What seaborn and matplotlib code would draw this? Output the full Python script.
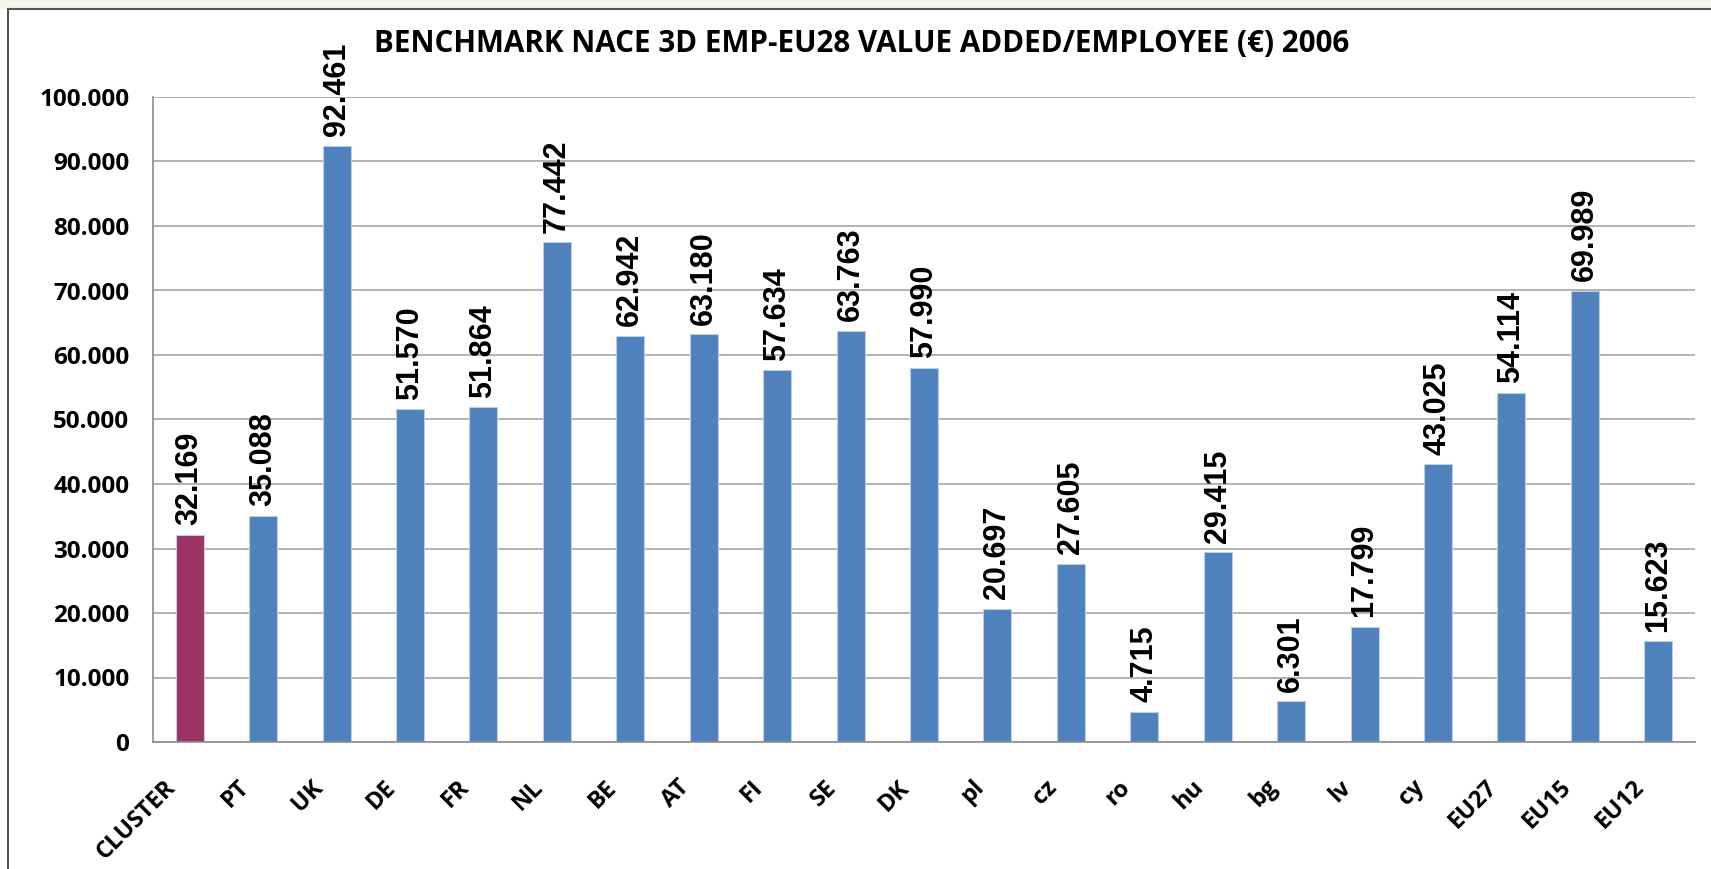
import numpy as np
import pandas as pd
import matplotlib
matplotlib.use("Agg")
import matplotlib.pyplot as plt
import matplotlib.transforms as mtransforms
from matplotlib.patches import Rectangle
from matplotlib.ticker import FuncFormatter
import seaborn as sns

# --- data ---
categories = ["CLUSTER", "PT", "UK", "DE", "FR", "NL", "BE", "AT", "FI", "SE", "DK",
              "pl", "cz", "ro", "hu", "bg", "lv", "cy", "EU27", "EU15", "EU12"]
values = [32169, 35088, 92461, 51570, 51864, 77442, 62942, 63180, 57634, 63763, 57990,
          20697, 27605, 4715, 29415, 6301, 17799, 43025, 54114, 69989, 15623]
highlight = "CLUSTER"
title = "BENCHMARK NACE 3D EMP-EU28 VALUE ADDED/EMPLOYEE (€) 2006"

BLUE = "#4F81BD"
MAROON = "#9B3363"

df = pd.DataFrame({"cat": categories, "val": values})
palette = {c: (MAROON if c == highlight else BLUE) for c in categories}

sns.set_theme(style="white")
plt.rcParams["font.family"] = ["Open Sans", "DejaVu Sans"]
plt.rcParams["text.color"] = "black"
plt.rcParams["xtick.color"] = "black"
plt.rcParams["ytick.color"] = "black"

fig = plt.figure(figsize=(17.11, 8.69), dpi=100)
# thin light strip above the chart frame, then the frame itself
fig.patches.append(Rectangle((0, 1 - 9 / 869), 1, 9 / 869, transform=fig.transFigure,
                             facecolor="#F4F7EF", edgecolor="none", zorder=-2))
fig.patches.append(Rectangle((8 / 1711, -0.05), 1.1, 1 - 9 / 869 + 0.05,
                             transform=fig.transFigure, facecolor="white",
                             edgecolor="#555555", linewidth=1.5, zorder=-1))

ax = fig.add_axes([153 / 1711, 1 - 742 / 869, (1695 - 153) / 1711, (742 - 97) / 869])
ax.set_facecolor("none")
ax.set_zorder(2)

sns.barplot(data=df, x="cat", y="val", hue="cat", palette=palette, width=0.38,
            legend=False, ax=ax, edgecolor="#B9CDE5", linewidth=0.8, saturation=1)

ax.set_ylim(0, 100000)
ax.set_xlim(-0.5, len(categories) - 0.5)
ax.set_yticks(np.arange(0, 100001, 10000))
ax.yaxis.set_major_formatter(FuncFormatter(lambda v, p: f"{int(v):,}".replace(",", ".")))
ax.grid(axis="y", color="#A6A6A6", linewidth=1.2)
ax.set_axisbelow(True)
ax.set_xlabel("")
ax.set_ylabel("")

for s in ["top", "right"]:
    ax.spines[s].set_visible(False)
for s in ["left", "bottom"]:
    ax.spines[s].set_color("#8C8C8C")
    ax.spines[s].set_linewidth(1.2)

# category separators as ticks, labels at centres
ax.set_xticks(np.arange(len(categories)))
ax.set_xticklabels(categories, rotation=45, ha="right", rotation_mode="anchor",
                   fontsize=17, fontweight="bold")
ax.set_xticks(np.arange(-0.5, len(categories), 1), minor=True)
ax.tick_params(axis="x", which="major", length=0, pad=24)
ax.tick_params(axis="x", which="minor", length=10, color="#8C8C8C", width=1.2, direction="out")
ax.tick_params(axis="y", length=8, color="#8C8C8C", width=1.2, direction="out",
               labelsize=17.5, pad=9)
for t in ax.get_yticklabels():
    t.set_fontweight("bold")

shift = mtransforms.ScaledTranslation(-0.26, 0, fig.dpi_scale_trans)
for t in ax.get_xticklabels():
    t.set_transform(t.get_transform() + shift)

for i, v in enumerate(values):
    ax.annotate(f"{v:,}".replace(",", "."), (i, v), xytext=(0, 7), textcoords="offset points",
                rotation=90, ha="center", va="bottom", fontsize=22, fontweight="bold",
                family=["Liberation Sans", "DejaVu Sans"])

fig.text(862 / 1711, 1 - 44 / 869, title, ha="center", va="center",
         fontsize=21.3, fontweight="bold")

fig.savefig("out.png", dpi=100)
